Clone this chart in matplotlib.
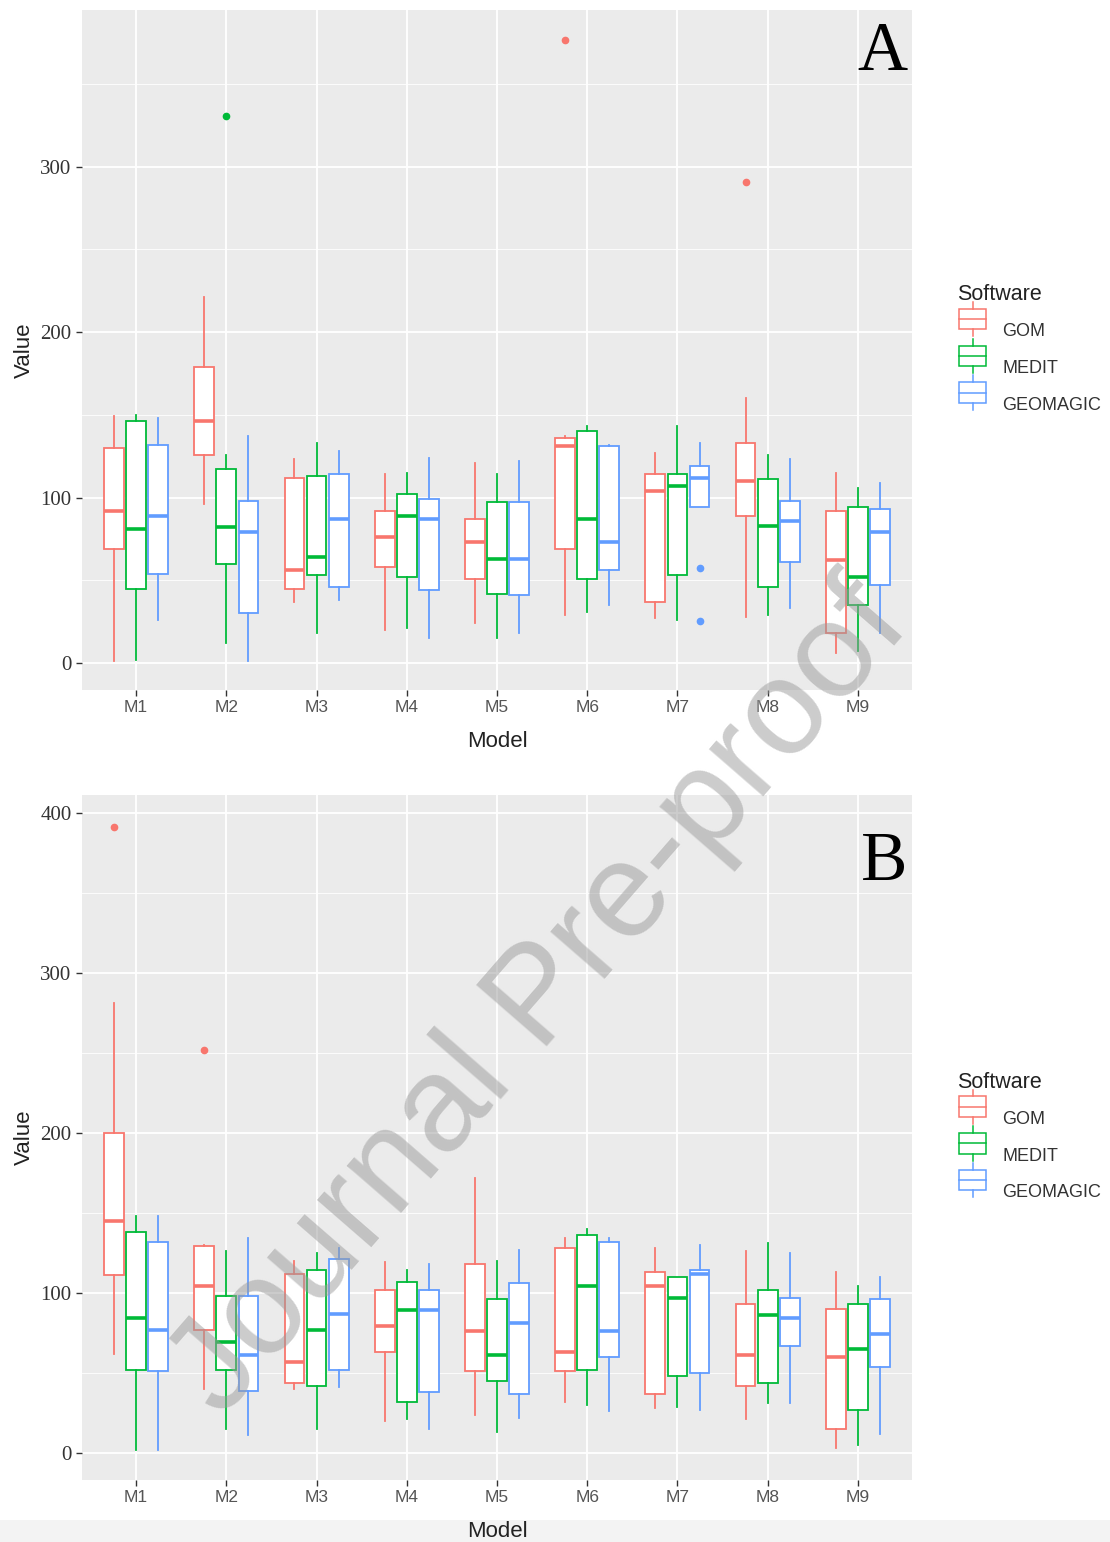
import matplotlib
matplotlib.use('Agg')
from matplotlib import pyplot as plt
from matplotlib.patches import Patch, Rectangle
from matplotlib.lines import Line2D
import numpy as np

models = ['M1', 'M2', 'M3', 'M4', 'M5', 'M6', 'M7', 'M8', 'M9']
software = ['GOM', 'MEDIT', 'GEOMAGIC']
colors = ['#F8766D', '#00BA38', '#619CFF']

# (whisker low, q1, median, q3, whisker high) per model
a_gom = [(1, 69, 92, 130, 149), (96, 126, 146, 179, 221), (37, 45, 56, 112, 123),
         (20, 58, 76, 92, 114), (24, 51, 73, 87, 121), (29, 69, 131, 136, 137),
         (27, 37, 104, 114, 127), (28, 89, 110, 133, 160), (6, 18, 62, 92, 115)]
a_medit = [(2, 45, 81, 146, 150), (12, 60, 82, 117, 126), (18, 53, 64, 113, 133),
           (21, 52, 89, 102, 115), (15, 42, 63, 97, 114), (31, 51, 87, 140, 143),
           (26, 53, 107, 114, 143), (29, 46, 83, 111, 126), (7, 35, 52, 94, 106)]
a_geomagic = [(26, 54, 89, 132, 148), (1, 30, 79, 98, 137), (38, 46, 87, 114, 128),
              (15, 44, 87, 99, 124), (18, 41, 63, 97, 122), (35, 56, 73, 131, 132),
              (94, 94, 112, 119, 133), (33, 61, 86, 98, 123), (18, 47, 79, 93, 109)]
a_fliers = {(1, 1): [330.5], (5, 0): [376.4], (6, 2): [57.2, 25.6], (7, 0): [290.6]}

b_gom = [(62, 111, 145, 200, 281), (40, 77, 104, 129, 130), (40, 44, 57, 112, 120),
         (20, 63, 79, 102, 119), (24, 51, 76, 118, 172), (32, 51, 63, 128, 134),
         (28, 37, 104, 113, 128), (21, 42, 61, 93, 126), (3, 15, 60, 90, 113)]
b_medit = [(2, 52, 84, 138, 148), (15, 52, 69, 98, 126), (15, 42, 77, 114, 125),
           (21, 32, 89, 107, 114), (13, 45, 61, 96, 120), (30, 52, 104, 136, 140),
           (29, 48, 97, 110, 110), (31, 44, 86, 102, 131), (5, 27, 65, 93, 104)]
b_geomagic = [(2, 51, 77, 132, 148), (11, 39, 61, 98, 134), (41, 52, 87, 121, 128),
              (15, 38, 89, 102, 118), (22, 37, 81, 106, 127), (26, 60, 76, 132, 134),
              (27, 50, 112, 114, 130), (31, 67, 84, 97, 125), (12, 54, 74, 96, 110)]
b_fliers = {(0, 0): [391.0], (1, 0): [252.0]}


class BoxKey:
    # small boxplot glyph for the legend, like ggplot's key
    def legend_artist(self, legend, orig_handle, fontsize, handlebox):
        c = orig_handle.get_edgecolor()
        tr = handlebox.get_transform()
        x0, w = handlebox.xdescent, handlebox.width
        yc = handlebox.ydescent + handlebox.height / 2
        half = 0.95 * fontsize
        bh = 0.6 * half
        bx = Rectangle((x0 + 0.05 * w, yc - bh), 0.9 * w, 2 * bh, facecolor='white',
                       edgecolor=c, linewidth=1.1, transform=tr)
        med = Line2D([x0 + 0.05 * w, x0 + 0.95 * w], [yc, yc], color=c, linewidth=1.1, transform=tr)
        wt = Line2D([x0 + 0.5 * w] * 2, [yc + bh, yc + half], color=c, linewidth=1.1, transform=tr)
        wb = Line2D([x0 + 0.5 * w] * 2, [yc - half, yc - bh], color=c, linewidth=1.1, transform=tr)
        for a in (bx, med, wt, wb):
            handlebox.add_artist(a)
        return bx


def make_stats(rows, fliers, j):
    stats = []
    for i, (lo, q1, med, q3, hi) in enumerate(rows):
        stats.append({'whislo': lo, 'q1': q1, 'med': med, 'q3': q3, 'whishi': hi,
                      'fliers': fliers.get((i, j), [])})
    return stats


def draw_panel(ax, series, fliers, yticks, ylim, letter, letter_y):
    ax.set_facecolor('#EBEBEB')
    x = np.arange(1, len(models) + 1)
    for j, rows in enumerate(series):
        c = colors[j]
        ax.bxp(make_stats(rows, fliers, j), positions=x + (j - 1) * 0.245, widths=0.22,
               patch_artist=True, showcaps=False,
               boxprops=dict(facecolor='white', edgecolor=c, linewidth=1.3),
               medianprops=dict(color=c, linewidth=2.6),
               whiskerprops=dict(color=c, linewidth=1.3),
               flierprops=dict(marker='o', markerfacecolor=c, markeredgecolor=c, markersize=4.5),
               manage_ticks=False, zorder=3)
    ax.set_xlim(0.4, 9.6)
    ax.set_ylim(*ylim)
    ax.set_xticks(x)
    ax.set_xticklabels(models, fontfamily='Liberation Sans', fontsize=12.5, color='#555555')
    ax.set_yticks(yticks)
    ax.set_yticklabels([str(v) for v in yticks], fontfamily='Liberation Serif', fontsize=15,
                       color='#333333')
    minor = [v + 50 for v in yticks if v + 50 < ylim[1]]
    ax.set_yticks(minor, minor=True)
    ax.tick_params(axis='both', which='major', length=4, color='#333333', width=1)
    ax.tick_params(axis='y', which='minor', length=0)
    ax.grid(True, which='major', color='white', linewidth=1.3, zorder=0)
    ax.grid(True, which='minor', axis='y', color='white', linewidth=0.6, zorder=0)
    ax.set_axisbelow(True)
    for s in ax.spines.values():
        s.set_visible(False)
    ax.set_xlabel('Model', fontfamily='Liberation Sans', fontsize=16, color='#222222', labelpad=11)
    ax.set_ylabel('Value', fontfamily='Liberation Sans', fontsize=16, color='#222222', labelpad=4)
    ax.text(0.994, letter_y, letter, transform=ax.transAxes, ha='right', va='baseline',
            fontfamily='Liberation Serif', fontsize=50, color='black')

    handles = [Patch(facecolor='white', edgecolor=c) for c in colors]
    leg = ax.legend(handles, software, title='Software', loc='center left',
                    bbox_to_anchor=(1.035, 0.5), frameon=False,
                    handler_map={Patch: BoxKey()},
                    prop={'family': 'Liberation Sans', 'size': 13},
                    handlelength=1.7, handleheight=1.6, labelspacing=0.75, handletextpad=0.8)
    leg.get_title().set_fontfamily('Liberation Sans')
    leg.get_title().set_fontsize(15.5)
    leg.get_title().set_color('#222222')
    leg._legend_box.align = 'left'
    for t in leg.get_texts():
        t.set_color('#333333')


fig = plt.figure(figsize=(11.1, 15.42), dpi=100)
W, H = 1110, 1542
ax_a = fig.add_axes([82 / W, 1 - 690 / H, 830 / W, 680 / H])
ax_b = fig.add_axes([82 / W, 1 - 1480 / H, 830 / W, 685 / H])

draw_panel(ax_a, [a_gom, a_medit, a_geomagic], a_fliers, [0, 100, 200, 300], (-16.3, 394.6), 'A', 0.912)
draw_panel(ax_b, [b_gom, b_medit, b_geomagic], b_fliers, [0, 100, 200, 300, 400], (-16.9, 411), 'B', 0.876)

fig.patches.append(Rectangle((0, 0), 1, 22 / H, transform=fig.transFigure,
                             facecolor='#F3F3F3', edgecolor='none', zorder=-1))

fig.text(540 / W, 1 - 1000 / H, 'Journal Pre-proof', rotation=49, ha='center', va='center',
         rotation_mode='anchor', fontfamily='Liberation Sans', fontsize=98,
         color='#9a9a9a', alpha=0.5, zorder=10)

plt.savefig('out.png', dpi=100)
